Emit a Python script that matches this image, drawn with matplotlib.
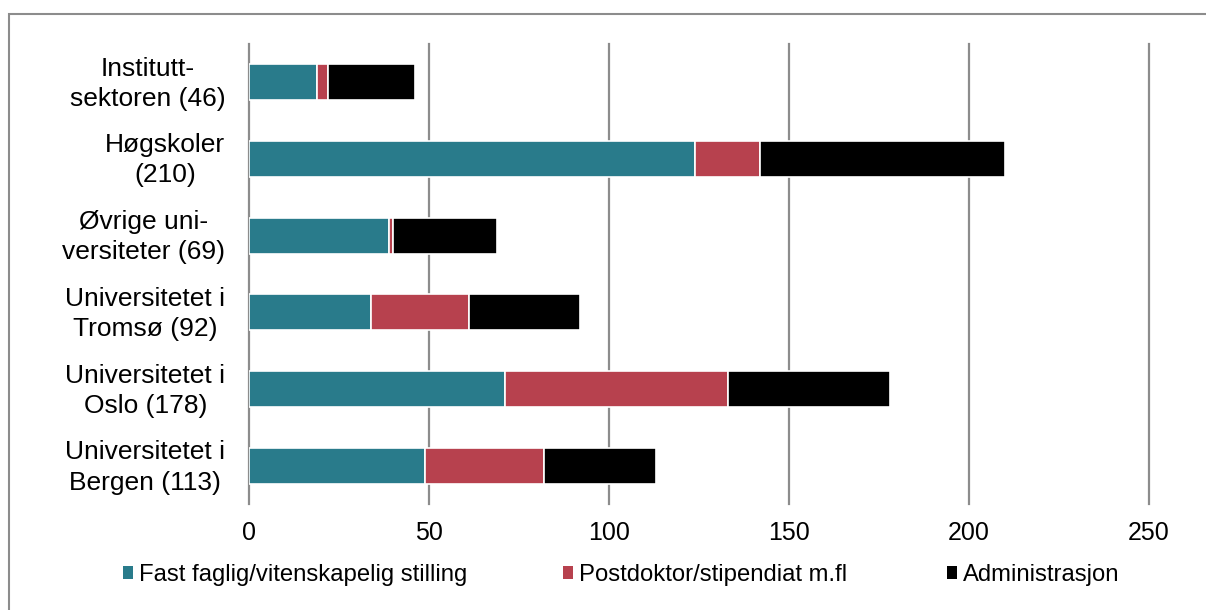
import matplotlib
matplotlib.use("Agg")
import matplotlib.pyplot as plt
from matplotlib.patches import Rectangle, Patch
from matplotlib.transforms import ScaledTranslation

plt.rcParams['font.family'] = ['Liberation Sans', 'DejaVu Sans']

categories = ["Institutt-\nsektoren (46)", "Høgskoler\n(210)", "Øvrige uni-\nversiteter (69)",
              "Universitetet i\nTromsø (92)", "Universitetet i\nOslo (178)", "Universitetet i\nBergen (113)"]
fast = [19, 124, 39, 34, 71, 49]
postdok = [3, 18, 1, 27, 62, 33]
admin = [24, 68, 29, 31, 45, 31]
series_names = ["Fast faglig/vitenskapelig stilling", "Postdoktor/stipendiat m.fl", "Administrasjon"]
colors = ["#297B8B", "#B7414E", "#000000"]
xticks = [0, 50, 100, 150, 200, 250]

fig = plt.figure(figsize=(12.06, 6.10), dpi=100)
ax = fig.add_axes([249/1206, 1-504.4/610, 900/1206, (504.4-43.6)/610])

ypos = list(range(len(categories)))
left = [0]*len(categories)
for vals, c in zip([fast, postdok, admin], colors):
    ax.barh(ypos, vals, left=left, height=0.47, color=c, edgecolor='white', linewidth=1.2, zorder=3)
    left = [l + v for l, v in zip(left, vals)]

ax.set_ylim(len(categories)-0.5, -0.5)
ax.set_xlim(0, 250)
ax.set_yticks(ypos)
ax.set_yticklabels(categories, fontsize=19, multialignment='center', linespacing=1.32)
ax.set_xticks(xticks)
ax.set_xticklabels([str(t) for t in xticks], fontsize=18)
ax.tick_params(axis='y', length=0, pad=17)
ax.tick_params(axis='x', length=0, pad=12)
shift = ScaledTranslation(0, 4/100, fig.dpi_scale_trans)
for lab in ax.get_yticklabels():
    lab.set_transform(lab.get_transform() + shift)
for s in ax.spines.values():
    s.set_visible(False)
ax.grid(axis='x', color='#8C8C8C', linewidth=1.6, zorder=0)
ax.set_axisbelow(True)
for gl in ax.get_xgridlines():
    gl.set_clip_on(False)

# legends placed individually
leg_x = [123/1206, 563/1206, 947/1206]
for name, c, lx in zip(series_names, colors, leg_x):
    lg = fig.legend(handles=[Patch(facecolor=c, edgecolor='none')], labels=[name],
                    loc='center left', bbox_to_anchor=(lx, 1-575/610), frameon=False,
                    fontsize=17.2, handlelength=0.42, handleheight=0.42, handletextpad=0.25,
                    borderpad=0, borderaxespad=0)

fig.add_artist(Rectangle((9/1206, -0.2), 2, 1.2 - 14/610 + 0.0, transform=fig.transFigure,
                         fill=False, edgecolor='#8C8C8C', linewidth=1.5, clip_on=False))

fig.savefig("out.png", dpi=100)
